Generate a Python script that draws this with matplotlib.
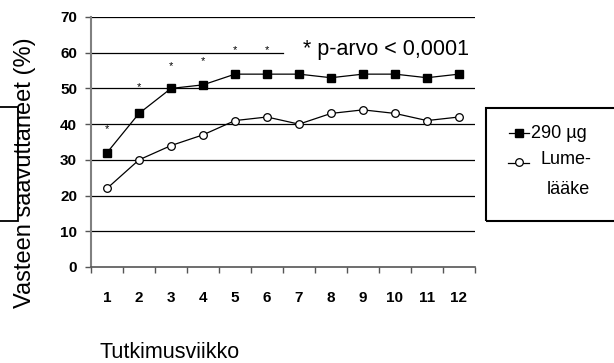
import numpy as np
import matplotlib.pyplot as plt
from matplotlib.patches import Rectangle
from matplotlib.lines import Line2D

plt.rcParams['font.family'] = ['Liberation Sans', 'DejaVu Sans']

weeks = np.arange(1, 13)
week_labels = [str(w) for w in weeks]
dose_290 = [32, 43, 50, 51, 54, 54, 54, 53, 54, 54, 53, 54]
placebo = [22, 30, 34, 37, 41, 42, 40, 43, 44, 43, 41, 42]
signif_weeks = [1, 2, 3, 4, 5, 6]
star_y = [38.5, 50.3, 56.3, 57.7, 60.8, 60.8]
yticks = [0, 10, 20, 30, 40, 50, 60, 70]

W, H = 614, 363
fig = plt.figure(figsize=(W / 100, H / 100), dpi=100)
ax = fig.add_axes([91 / W, 1 - 267 / H, 384 / W, 250 / H])

# horizontal lines (the 60 line stops where the p-value note sits)
for y in yticks[1:]:
    xmax = 6 / 12 if y == 60 else 1
    ax.axhline(y, xmin=0, xmax=xmax, color='black', lw=0.9, zorder=1)

ax.plot(weeks, dose_290, color='black', lw=0.9, marker='s', markersize=5.5,
        markerfacecolor='black', markeredgecolor='black', zorder=3)
ax.plot(weeks, placebo, color='black', lw=0.9, marker='o', markersize=5.5,
        markerfacecolor='white', markeredgecolor='black', markeredgewidth=0.9, zorder=3)

for w, sy in zip(signif_weeks, star_y):
    ax.text(w, sy, '*', ha='center', va='center', fontsize=8)

ax.set_xlim(0.5, 12.5)
ax.set_ylim(0, 70)
ax.set_xticks(weeks)
ax.set_xticklabels(week_labels, fontweight='bold', fontsize=11)
ax.set_xticks(np.arange(0.5, 13, 1), minor=True)
ax.tick_params(axis='x', which='major', length=0, pad=17)
ax.tick_params(axis='x', which='minor', length=4, width=1, color='#555555', direction='out')
ax.set_yticks(yticks)
ax.set_yticklabels([str(y) for y in yticks], fontweight='bold', fontsize=11)
ax.tick_params(axis='y', length=4, width=1, color='#555555', pad=6)

for s in ['top', 'right']:
    ax.spines[s].set_visible(False)
ax.spines['left'].set_color('#808080')
ax.spines['left'].set_linewidth(1.5)
ax.spines['bottom'].set_color('#555555')
ax.spines['bottom'].set_linewidth(1.2)

fig.text(25 / W, 1 - 173 / H, 'Vasteen saavuttaneet (%)', rotation=90,
         ha='center', va='center', fontsize=17)
fig.text(100 / W, 1 - 353 / H, 'Tutkimusviikko', ha='left', va='center', fontsize=15.5)
fig.text(303 / W, 1 - 55 / H, '* p-arvo < 0,0001', ha='left', va='baseline', fontsize=15.5)

# left clipped box
fig.add_artist(Rectangle((-5 / W, 1 - 221 / H), 23 / W, 114 / H, transform=fig.transFigure,
                         fill=False, edgecolor='black', lw=1.3))

# legend box
fig.add_artist(Rectangle((486 / W, 1 - 221 / H), 140 / W, 113 / H, transform=fig.transFigure,
                         fill=False, edgecolor='black', lw=1.5))
fig.add_artist(Line2D([509 / W, 529 / W], [1 - 133 / H, 1 - 133 / H], transform=fig.transFigure,
                      color='black', lw=0.9, marker='s', markersize=5.5, markevery=[0],
                      markerfacecolor='none', markeredgecolor='none'))
fig.add_artist(Line2D([519 / W], [1 - 133 / H], transform=fig.transFigure, color='black',
                      marker='s', markersize=5.5, linestyle='none'))
fig.add_artist(Line2D([508 / W, 529 / W], [1 - 163 / H, 1 - 163 / H], transform=fig.transFigure,
                      color='black', lw=0.9))
fig.add_artist(Line2D([519 / W], [1 - 162 / H], transform=fig.transFigure, color='black',
                      marker='o', markersize=5.5, markerfacecolor='white', linestyle='none',
                      markeredgewidth=0.9))
fig.text(531 / W, 1 - 133 / H, '290 µg', ha='left', va='center', fontsize=13)
fig.text(540 / W, 1 - 160 / H, 'Lume-', ha='left', va='center', fontsize=13)
fig.text(547 / W, 1 - 189 / H, 'lääke', ha='left', va='center', fontsize=13)

fig.savefig('out.png', dpi=100)
